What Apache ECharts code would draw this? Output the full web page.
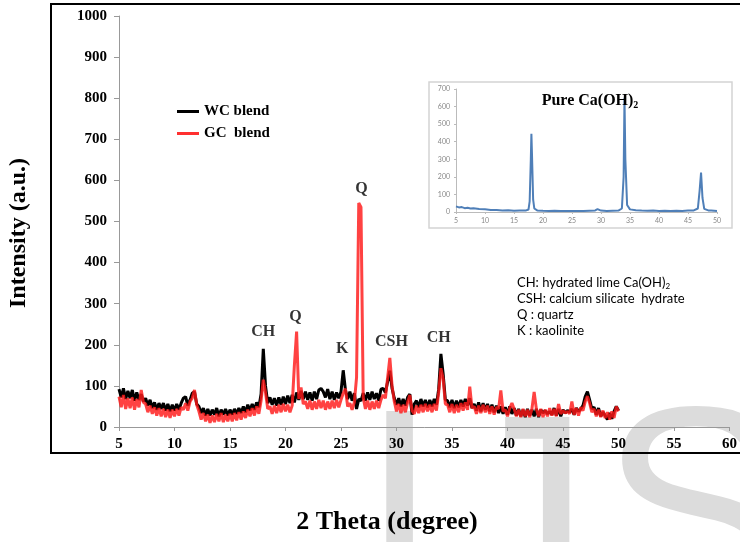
<!DOCTYPE html>
<html>
<head>
<meta charset="utf-8">
<script src="https://cdn.jsdelivr.net/npm/echarts@6/dist/echarts.min.js"></script>
<style>
  html, body { margin: 0; padding: 0; background: #fff; }
  #xrd { width: 740px; height: 542px; }
</style>
</head>
<body>
<div id="xrd"></div>
<script>
// blend scans: one reading every 0.2 deg of 2-theta, from 5 to 50
const thetaStart = 5;
const thetaStep = 0.2;

const wcBlend = [
  92, 72, 94, 68, 88, 70, 90, 64, 84, 66,
  80, 62, 70, 52, 66, 46, 60, 42, 58, 44,
  58, 40, 56, 38, 54, 40, 56, 42, 58, 70,
  74, 52, 66, 82, 86, 56, 50, 34, 46, 28,
  44, 28, 42, 30, 46, 26, 42, 30, 44, 28,
  42, 30, 44, 32, 46, 34, 50, 36, 54, 40,
  56, 42, 60, 48, 80, 190, 100, 58, 72, 54,
  70, 52, 72, 54, 74, 56, 76, 58, 78, 60,
  84, 66, 88, 68, 86, 66, 84, 64, 86, 68,
  90, 94, 86, 72, 92, 68, 86, 66, 84, 70,
  86, 138, 90, 68, 86, 64, 82, 44, 68, 64,
  82, 64, 84, 66, 86, 68, 82, 64, 92, 94,
  84, 110, 137, 94, 70, 54, 70, 50, 68, 52,
  72, 80, 30, 56, 64, 48, 68, 50, 66, 48,
  66, 50, 68, 54, 92, 178, 130, 66, 64, 48,
  66, 46, 64, 48, 66, 50, 68, 52, 70, 46,
  56, 40, 60, 38, 58, 42, 56, 38, 54, 36,
  52, 34, 50, 32, 48, 30, 50, 32, 46, 28,
  44, 26, 42, 24, 44, 28, 42, 26, 44, 24,
  42, 34, 40, 32, 38, 30, 46, 28, 44, 26,
  42, 34, 40, 36, 44, 30, 46, 38, 44, 52,
  74, 86, 66, 44, 48, 30, 46, 26, 36, 28,
  18, 34, 20, 38, 50, 40
];

const gcBlend = [
  74, 48, 78, 44, 70, 46, 72, 42, 68, 48,
  90, 60, 56, 36, 52, 32, 48, 28, 46, 26,
  44, 24, 42, 22, 42, 26, 44, 28, 48, 42,
  58, 40, 62, 70, 90, 54, 38, 18, 34, 14,
  30, 10, 28, 12, 32, 14, 34, 12, 30, 14,
  32, 14, 34, 16, 36, 18, 38, 22, 42, 26,
  46, 28, 50, 32, 64, 115, 84, 44, 50, 32,
  52, 34, 54, 36, 56, 38, 54, 36, 52, 150,
  232, 68, 96, 56, 62, 44, 64, 42, 62, 44,
  66, 46, 64, 42, 62, 44, 64, 46, 66, 48,
  66, 82, 93, 50, 58, 42, 60, 120, 545, 535,
  72, 44, 64, 42, 62, 44, 64, 46, 66, 78,
  70, 120, 168, 100, 62, 38, 56, 34, 54, 36,
  60, 78, 40, 32, 52, 34, 54, 36, 56, 38,
  54, 36, 56, 40, 84, 143, 118, 56, 54, 36,
  56, 34, 54, 36, 58, 40, 60, 42, 98, 46,
  50, 32, 52, 34, 54, 36, 52, 32, 50, 30,
  48, 44, 89, 38, 42, 26, 46, 58, 44, 26,
  42, 24, 44, 26, 42, 24, 44, 85, 44, 26,
  44, 24, 42, 26, 46, 28, 44, 26, 56, 32,
  40, 34, 38, 32, 62, 30, 46, 28, 48, 40,
  62, 75, 58, 36, 44, 26, 42, 24, 40, 22,
  36, 18, 38, 22, 50, 38
];

// inset: pure Ca(OH)2
const pureTheta = [5, 5.5, 6, 6.5, 7, 7.5, 8, 9, 10, 11, 12, 13, 14, 15, 16, 17, 17.5, 17.7, 17.9, 18.0, 18.1, 18.3, 18.5,
  19, 20, 21, 22, 23, 24, 25, 26, 27, 28, 29, 29.4, 30, 31, 32, 33, 33.6, 33.9, 34.05, 34.2, 34.5,
  35, 36, 37, 38, 39, 40, 41, 42, 43, 44, 45, 46, 46.7, 47.0, 47.25, 47.5, 47.8, 48.5, 49, 50];
const pureCounts = [32, 26, 28, 22, 24, 20, 21, 17, 15, 12, 11, 9, 10, 7, 8, 8, 14, 60, 300, 445, 330, 70, 20,
  9, 7, 6, 7, 5, 6, 5, 6, 5, 7, 9, 16, 8, 6, 7, 8, 20, 200, 650, 300, 40,
  15, 10, 8, 7, 8, 6, 7, 6, 7, 6, 8, 9, 20, 120, 225, 80, 18, 9, 8, 6];

// phase labels over the peaks
const peakNames = ['CH', 'Q', 'K', 'Q', 'CSH', 'CH'];
const peakTheta = [18.0, 20.9, 25.1, 26.85, 29.55, 33.8];
const peakLabelY = [232, 268, 189, 579, 207, 216];

const serif = '"Liberation Serif", "Times New Roman", serif';
const sans = 'Lato, "Open Sans", sans-serif';

const toPairs = (vals) => vals.map((v, i) => [+(thetaStart + i * thetaStep).toFixed(1), v]);

const bigAxis = {
  splitLine: { show: false },
  axisLine: { show: true, onZero: false, lineStyle: { color: '#999', width: 1 } },
  axisTick: { show: true, length: 4, lineStyle: { color: '#999' } },
  axisLabel: { fontFamily: serif, fontWeight: 'bold', fontSize: 15, color: '#000', formatter: (v) => String(v) }
};
const smallAxis = {
  splitLine: { show: false },
  axisLine: { show: true, onZero: false, lineStyle: { color: '#bbb', width: 1 } },
  axisTick: { show: true, length: 2, lineStyle: { color: '#bbb' } },
  axisLabel: { fontFamily: sans, fontSize: 7, color: '#888', formatter: (v) => String(v) }
};

const option = {
  animation: false,
  backgroundColor: '#fff',
  grid: [
    { left: 119, right: 10, top: 16, bottom: 115 },
    { left: 456, right: 23, top: 89, bottom: 330 }
  ],
  xAxis: [
    { ...bigAxis, type: 'value', gridIndex: 0, min: 5, max: 60, interval: 5,
      axisLabel: { ...bigAxis.axisLabel, margin: 10 } },
    { ...smallAxis, type: 'value', gridIndex: 1, min: 5, max: 50, interval: 5,
      axisLabel: { ...smallAxis.axisLabel, margin: 5 } }
  ],
  yAxis: [
    { ...bigAxis, type: 'value', gridIndex: 0, min: 0, max: 1000, interval: 100,
      axisTick: { show: true, length: 5, lineStyle: { color: '#999' } },
      axisLabel: { ...bigAxis.axisLabel, margin: 12 } },
    { ...smallAxis, type: 'value', gridIndex: 1, min: 0, max: 700, interval: 100,
      axisLabel: { ...smallAxis.axisLabel, margin: 6 } }
  ],
  legend: {
    left: 172,
    top: 99,
    orient: 'vertical',
    icon: 'rect',
    itemWidth: 22,
    itemHeight: 3,
    itemGap: 7,
    textStyle: { fontFamily: serif, fontWeight: 'bold', fontSize: 15, color: '#000' },
    data: [
      { name: 'WC blend', itemStyle: { color: '#000' } },
      { name: 'GC  blend', itemStyle: { color: '#ff3030' } }
    ]
  },
  graphic: [
    // faint journal watermark
    { type: 'text', left: 360, top: 386, z: -5, silent: true,
      style: { text: 'I', fontFamily: 'Liberation Sans', fontSize: 285, fill: '#dcdcdc' } },
    { type: 'text', left: 448, top: 392, z: -5, silent: true,
      style: { text: 'J', fontFamily: 'Liberation Sans', fontSize: 285, fill: '#dcdcdc' } },
    { type: 'text', left: 600, top: 384, z: -5, silent: true,
      style: { text: 'S', fontFamily: 'Liberation Sans', fontSize: 285, fill: '#dcdcdc' } },
    // outer frame
    { type: 'rect', z: 0, silent: true,
      shape: { x: 51, y: 4, width: 700, height: 449 },
      style: { fill: null, stroke: '#000', lineWidth: 2 } },
    // inset frame
    { type: 'rect', z: -2, silent: true,
      shape: { x: 429, y: 82, width: 303, height: 146 },
      style: { fill: '#fff', stroke: '#d4d4d4', lineWidth: 1.5 } },
    { type: 'text', x: 590, y: 101, z: 10, silent: true,
      style: {
        text: '{a|Pure Ca(OH)}{b|2}',
        align: 'center', verticalAlign: 'middle',
        rich: {
          a: { fontFamily: serif, fontWeight: 'bold', fontSize: 16, fill: '#000' },
          b: { fontFamily: serif, fontWeight: 'bold', fontSize: 10, fill: '#000', padding: [8, 0, 0, 0] }
        }
      } },
    // phase key
    { type: 'text', x: 517, y: 275, z: 10, silent: true,
      style: {
        text: '{t|CH: hydrated lime Ca(OH)}{s|2}\n{t|CSH: calcium silicate  hydrate}\n{t|Q : quartz}\n{t|K : kaolinite}',
        align: 'left', verticalAlign: 'top',
        rich: {
          t: { fontFamily: sans, fontSize: 13, lineHeight: 16, fill: '#000' },
          s: { fontFamily: sans, fontSize: 8, lineHeight: 16, fill: '#000', padding: [7, 0, 0, 0] }
        }
      } },
    // axis titles
    { type: 'text', x: 387, y: 522, z: 10, silent: true,
      style: { text: '2 Theta (degree)', fontFamily: serif, fontWeight: 'bold', fontSize: 26,
        fill: '#000', align: 'center', verticalAlign: 'middle' } },
    { type: 'text', x: 19, y: 233, rotation: Math.PI / 2, z: 10, silent: true,
      style: { text: 'Intensity (a.u.)', fontFamily: serif, fontWeight: 'bold', fontSize: 24,
        fill: '#000', align: 'center', verticalAlign: 'middle' } }
  ],
  series: [
    {
      name: 'WC blend',
      type: 'line',
      xAxisIndex: 0, yAxisIndex: 0,
      data: toPairs(wcBlend),
      showSymbol: false,
      color: '#000',
      lineStyle: { color: '#000', width: 3 },
      z: 3
    },
    {
      name: 'GC  blend',
      type: 'line',
      xAxisIndex: 0, yAxisIndex: 0,
      data: toPairs(gcBlend),
      showSymbol: false,
      color: 'rgba(255,25,25,0.82)',
      lineStyle: { color: 'rgba(255,25,25,0.82)', width: 3 },
      z: 4
    },
    {
      name: 'peaks',
      type: 'scatter',
      xAxisIndex: 0, yAxisIndex: 0,
      data: peakNames.map((n, i) => ({ name: n, value: [peakTheta[i], peakLabelY[i]] })),
      symbolSize: 1,
      itemStyle: { color: 'transparent' },
      silent: true,
      z: 6,
      label: {
        show: true, position: 'inside', formatter: '{b}',
        fontFamily: serif, fontWeight: 'bold', fontSize: 16, color: '#000'
      }
    },
    {
      name: 'Pure Ca(OH)2',
      type: 'line',
      xAxisIndex: 1, yAxisIndex: 1,
      data: pureTheta.map((t, i) => [t, pureCounts[i]]),
      showSymbol: false,
      color: '#4f7fb8',
      lineStyle: { color: '#4f7fb8', width: 2 },
      z: 3
    }
  ]
};

const chart = echarts.init(document.getElementById('xrd'));
chart.setOption(option);
window.addEventListener('resize', () => chart.resize());
</script>
</body>
</html>
